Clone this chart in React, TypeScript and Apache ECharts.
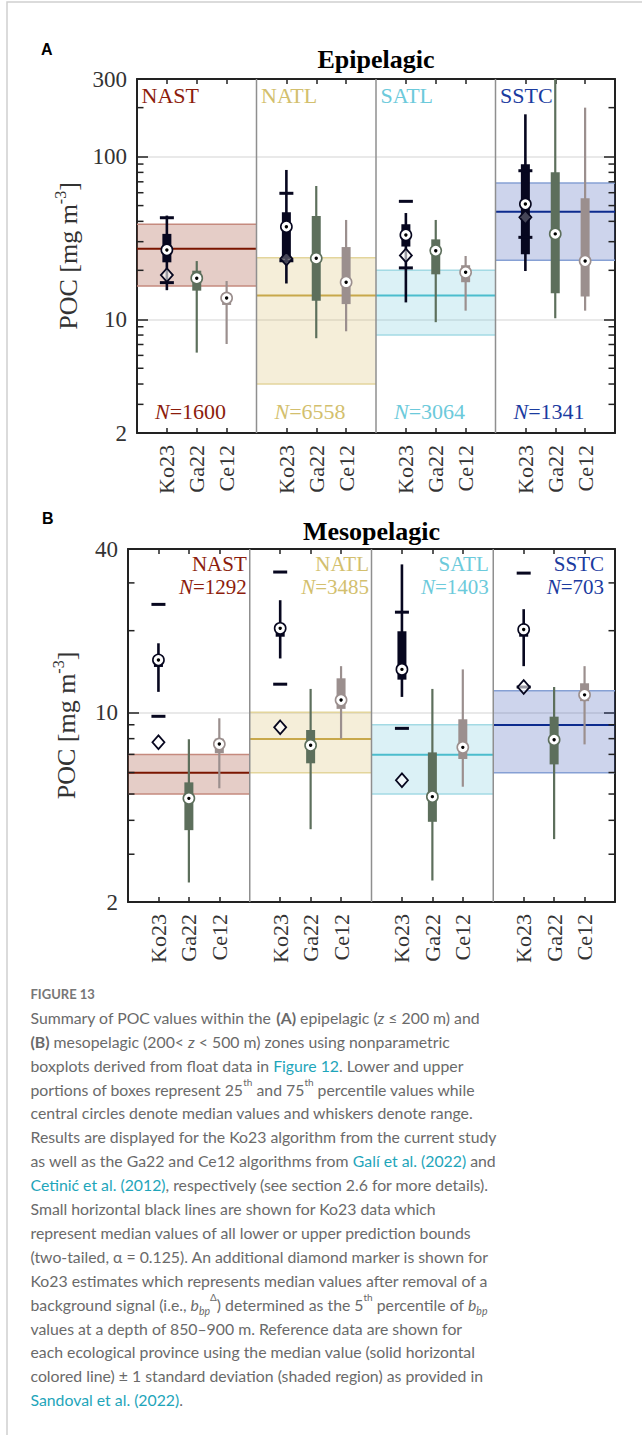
import React, { useEffect, useRef } from 'react';
import * as echarts from 'echarts';

const provinces = ['NAST', 'NATL', 'SATL', 'SSTC'];
const algorithms = ['Ko23', 'Ga22', 'Ce12'];

// ---------- Epipelagic (A) ----------
const epiN = [1600, 6558, 3064, 1341];
const epiRefMedian = [27.1, 14.0, 14.0, 45.9];
const epiRefLow = [16.0, 4.0, 8.0, 23.1];
const epiRefHigh = [38.4, 23.9, 20.0, 68.9];
// rows per province: [min, q1, median, q3, max]
const epiKo23 = [[15.1, 22.4, 26.7, 33.5, 43.4], [16.6, 23.5, 37.1, 45.5, 82.8], [12.7, 28.0, 33.0, 38.4, 45.0], [19.8, 25.1, 51.1, 89.7, 182]];
const epiGa22 = [[6.24, 15.0, 17.9, 19.9, 22.8], [7.65, 13.0, 23.7, 43.2, 66.0], [9.6, 18.9, 26.4, 31.0, 40.8], [10.15, 14.45, 33.5, 80.1, 300]];
const epiCe12 = [[7.05, 12.25, 13.5, 14.5, 17.2], [8.44, 12.4, 16.9, 27.8, 40.8], [11.3, 16.9, 19.45, 21.5, 24.5], [11.3, 13.8, 22.8, 55.4, 200]];
const epiPredLow = [16.8, 22.9, 20.7, 31.9];
const epiPredHigh = [42.1, 59.5, 53.1, 81.9];
const epiDiamond = [18.7, 23.6, 24.7, 42.4];
const epiMinorTicks = [3, 4, 5, 6, 7, 8, 9, 20, 30, 40, 50, 60, 70, 80, 90, 200];

// ---------- Mesopelagic (B) ----------
const mesoN = [1292, 3485, 1403, 703];
const mesoRefMedian = [5.99, 7.98, 6.98, 8.98];
const mesoRefLow = [5.0, 5.99, 5.0, 5.99];
const mesoRefHigh = [7.0, 10.0, 9.0, 12.0];
const mesoKo23 = [[11.9, 14.7, 15.6, 16.2, 17.97], [15.8, 19.0, 20.4, 20.6, 25.9], [11.4, 13.2, 14.4, 19.9, 35.1], [14.8, 19.0, 20.2, 20.8, 24.0]];
const mesoGa22 = [[2.36, 3.68, 4.82, 5.52, 7.96], [3.71, 6.49, 7.56, 8.61, 12.2], [2.40, 3.95, 4.89, 7.12, 12.2], [3.41, 6.43, 7.93, 9.64, 12.4]];
const mesoCe12 = [[5.25, 7.07, 7.64, 8.0, 9.51], [8.0, 10.3, 11.1, 13.35, 14.8], [5.32, 6.73, 7.43, 9.43, 14.4], [7.62, 11.0, 11.6, 12.8, 14.8]];
const mesoPredLow = [9.67, 12.7, 8.73, 12.4];
const mesoPredHigh = [25.0, 32.9, 23.4, 32.6];
const mesoDiamond = [7.76, 8.81, 5.62, 12.4];
const mesoMinorTicks = [3, 4, 5, 6, 7, 8, 9, 20, 30];

const captionTitle = 'FIGURE 13';
const captionLines = [
  'Summary of POC values within the {b|(A)} epipelagic ({i|z} ≤ 200 m) and',
  '{b|(B)} mesopelagic (200< {i|z} < 500 m) zones using nonparametric',
  'boxplots derived from float data in {l|Figure 12}. Lower and upper',
  'portions of boxes represent 25{sup|th} and 75{sup|th} percentile values while',
  'central circles denote median values and whiskers denote range.',
  'Results are displayed for the Ko23 algorithm from the current study',
  'as well as the Ga22 and Ce12 algorithms from {l|Galí et al. (2022)} and',
  '{l|Cetinić et al. (2012)}, respectively (see section 2.6 for more details).',
  'Small horizontal black lines are shown for Ko23 data which',
  'represent median values of all lower or upper prediction bounds',
  '(two-tailed, α = 0.125). An additional diamond marker is shown for',
  'Ko23 estimates which represents median values after removal of a',
  'background signal (i.e., {i|b}{sub|bp}{sup|Δ}) determined as the 5{sup|th} percentile of {i|b}{sub|bp}',
  'values at a depth of 850–900 m. Reference data are shown for',
  'each ecological province using the median value (solid horizontal',
  'colored line) ± 1 standard deviation (shaded region) as provided in',
  '{l|Sandoval et al. (2022)}.',
];

// ---------- styles ----------
const SERIF = 'Liberation Serif';
const provColors = [
  { text: '#8c1c0c', line: '#7a1500', fill: 'rgba(170,90,70,0.3)', edge: '#c58a7e' },
  { text: '#d3bf6e', line: '#c8a84b', fill: 'rgba(215,190,110,0.26)', edge: '#e3d59c' },
  { text: '#6ccadb', line: '#4bbdcd', fill: 'rgba(110,200,220,0.25)', edge: '#a3dae4' },
  { text: '#1b3b9f', line: '#0c2b8e', fill: 'rgba(60,90,180,0.26)', edge: '#86a0d4' },
];
const algColors = ['#07071f', '#5d6f5c', '#9b8f8e'];

const xSlots: string[] = [''];
provinces.forEach(() => {
  algorithms.forEach((a) => xSlots.push(a));
  xSlots.push('');
});

function catAxis(gridIndex: number, position: string, showLabel: boolean) {
  return {
    type: 'category',
    gridIndex,
    position,
    data: xSlots,
    boundaryGap: false,
    axisLine: { show: true, onZero: false, lineStyle: { color: '#222', width: 2 } },
    axisTick: {
      show: true,
      inside: true,
      length: 5,
      interval: (i: number) => i % 4 !== 0,
      lineStyle: { color: '#222', width: 1.5 },
    },
    axisLabel: {
      show: showLabel,
      interval: 0,
      rotate: 90,
      margin: 12,
      fontFamily: SERIF,
      fontSize: 22,
      color: '#333',
    },
    splitLine: { show: false },
  };
}

function logAxis(gridIndex: number, position: string, max: number, showLabel: boolean, nameGap: number) {
  return {
    type: 'log',
    logBase: 10,
    gridIndex,
    position,
    min: 2,
    max,
    axisLine: { show: true, lineStyle: { color: '#222', width: 2 } },
    axisTick: { show: true, inside: true, length: 11, lineStyle: { color: '#222', width: 1.5 } },
    axisLabel: {
      show: showLabel,
      margin: 10,
      fontFamily: SERIF,
      fontSize: 23,
      color: '#333',
      formatter: (v: number) => String(Math.round(v)),
    },
    splitLine: { show: showLabel, lineStyle: { color: '#e2e2e2', width: 1.5 } },
    minorTick: { show: false },
    name: showLabel ? '{a|POC [mg m}{s|-3}{a|]}' : '',
    nameLocation: 'middle',
    nameRotate: 90,
    nameGap,
    nameTextStyle: {
      rich: {
        a: { fontFamily: SERIF, fontSize: 26, color: '#333', lineHeight: 32 },
        s: { fontFamily: SERIF, fontSize: 16, color: '#333', lineHeight: 32, verticalAlign: 'top' },
      },
    },
  };
}

function provinceRender(kind: 'epi' | 'meso') {
  const labelOff = [3, 2.5, 4.5, 11];
  return (params: any, api: any) => {
    const p = api.value(0);
    const c = provColors[p];
    const cs = params.coordSys;
    const med = api.coord([4 * p, api.value(1)]);
    const x0 = med[0];
    const x1 = api.coord([4 * p + 4, api.value(1)])[0];
    const yLow = api.coord([4 * p, api.value(2)])[1];
    const yHigh = api.coord([4 * p, api.value(3)])[1];
    const nVal = api.value(4);
    const children: any[] = [
      { type: 'rect', shape: { x: x0, y: yHigh, width: x1 - x0, height: yLow - yHigh }, style: { fill: c.fill } },
      { type: 'line', shape: { x1: x0, y1: yHigh, x2: x1, y2: yHigh }, style: { stroke: c.edge, lineWidth: 1.5 } },
      { type: 'line', shape: { x1: x0, y1: yLow, x2: x1, y2: yLow }, style: { stroke: c.edge, lineWidth: 1.5 } },
      { type: 'line', shape: { x1: x0, y1: med[1], x2: x1, y2: med[1] }, style: { stroke: c.line, lineWidth: 2 } },
    ];
    if (p > 0) {
      children.push({
        type: 'line',
        shape: { x1: x0, y1: cs.y, x2: x0, y2: cs.y + cs.height },
        style: { stroke: '#8f8f8f', lineWidth: 1.5 },
      });
    }
    if (kind === 'epi') {
      const rich = {
        i: { fontFamily: SERIF, fontSize: 22, fontStyle: 'italic', fill: c.text },
        r: { fontFamily: SERIF, fontSize: 22, fill: c.text },
      };
      children.push({
        type: 'text',
        style: { text: provinces[p], x: x0 + 4.5, y: cs.y + 16, align: 'left', verticalAlign: 'middle', fontFamily: SERIF, fontSize: 22, fill: c.text },
      });
      children.push({
        type: 'text',
        style: { text: '{i|N}{r|=' + nVal + '}', rich, x: x0 + 18, y: cs.y + cs.height - 22, align: 'left', verticalAlign: 'middle', fontFamily: SERIF, fontSize: 22, fill: c.text },
      });
    } else {
      const rich = {
        i: { fontFamily: SERIF, fontSize: 21, fontStyle: 'italic', fill: c.text },
        r: { fontFamily: SERIF, fontSize: 21, fill: c.text },
      };
      children.push({
        type: 'text',
        style: { text: provinces[p], x: x1 - labelOff[p], y: cs.y + 14.5, align: 'right', verticalAlign: 'middle', fontFamily: SERIF, fontSize: 21, fill: c.text },
      });
      children.push({
        type: 'text',
        style: { text: '{i|N}{r|=' + nVal + '}', rich, x: x1 - labelOff[p], y: cs.y + 38, align: 'right', verticalAlign: 'middle', fontFamily: SERIF, fontSize: 21, fill: c.text },
      });
    }
    return { type: 'group', children };
  };
}

function boxRender(params: any, api: any) {
  const x = api.value(0);
  const a = api.value(6);
  const col = algColors[a];
  const pMin = api.coord([x, api.value(1)]);
  const pQ1 = api.coord([x, api.value(2)]);
  const pMed = api.coord([x, api.value(3)]);
  const pQ3 = api.coord([x, api.value(4)]);
  const pMax = api.coord([x, api.value(5)]);
  const bw = 9;
  return {
    type: 'group',
    children: [
      { type: 'line', shape: { x1: pMin[0], y1: pMin[1], x2: pMax[0], y2: pMax[1] }, style: { stroke: col, lineWidth: a === 0 ? 2.6 : 2.2 } },
      { type: 'rect', shape: { x: pQ3[0] - bw / 2, y: pQ3[1], width: bw, height: pQ1[1] - pQ3[1] }, style: { fill: col } },
      { type: 'circle', shape: { cx: pMed[0], cy: pMed[1], r: 5.6 }, style: { fill: '#fff', stroke: col, lineWidth: 1.6 } },
      { type: 'circle', shape: { cx: pMed[0], cy: pMed[1], r: 1.7 }, style: { fill: '#000' } },
    ],
  };
}

function extraRender(params: any, api: any) {
  const x = api.value(0);
  const lo = api.coord([x, api.value(1)]);
  const hi = api.coord([x, api.value(2)]);
  const dv = api.value(3);
  const d = api.coord([x, dv]);
  const inside = dv >= api.value(4) && dv <= api.value(5);
  const col = algColors[0];
  return {
    type: 'group',
    children: [
      { type: 'rect', shape: { x: lo[0] - 7, y: lo[1] - 1.5, width: 14, height: 3 }, style: { fill: col } },
      { type: 'rect', shape: { x: hi[0] - 7, y: hi[1] - 1.5, width: 14, height: 3 }, style: { fill: col } },
      {
        type: 'polygon',
        shape: { points: [[d[0], d[1] - 6.8], [d[0] + 6, d[1]], [d[0], d[1] + 6.8], [d[0] - 6, d[1]]] },
        style: { fill: inside ? 'rgba(255,255,255,0.25)' : 'rgba(255,255,255,0.6)', stroke: col, lineWidth: 1.8 },
      },
    ],
  };
}

function minorTickRender(params: any, api: any) {
  const cs = params.coordSys;
  const y = api.coord([0, api.value(1)])[1];
  return {
    type: 'group',
    children: [
      { type: 'line', shape: { x1: cs.x, y1: y, x2: cs.x + 6.5, y2: y }, style: { stroke: '#222', lineWidth: 1.5 } },
      { type: 'line', shape: { x1: cs.x + cs.width - 6.5, y1: y, x2: cs.x + cs.width, y2: y }, style: { stroke: '#222', lineWidth: 1.5 } },
    ],
  };
}

function panelSeries(
  gi: number,
  kind: 'epi' | 'meso',
  n: number[],
  refMedian: number[],
  refLow: number[],
  refHigh: number[],
  boxes: number[][][],
  predLow: number[],
  predHigh: number[],
  diamond: number[],
  minorTicks: number[]
) {
  const xAxisIndex = gi * 2;
  const yAxisIndex = gi * 2;
  const provData = provinces.map((_, p) => [p, refMedian[p], refLow[p], refHigh[p], n[p]]);
  const boxData: number[][] = [];
  provinces.forEach((_, p) => {
    boxes.forEach((arr, a) => {
      const r = arr[p];
      boxData.push([4 * p + 1 + a, r[0], r[1], r[2], r[3], r[4], a]);
    });
  });
  const extraData = provinces.map((_, p) => [4 * p + 1, predLow[p], predHigh[p], diamond[p], boxes[0][p][1], boxes[0][p][3]]);
  const tickData = minorTicks.map((v) => [0, v]);
  return [
    { type: 'custom', xAxisIndex, yAxisIndex, z: 1, clip: false, silent: true, renderItem: provinceRender(kind), data: provData },
    { type: 'custom', xAxisIndex, yAxisIndex, z: 3, clip: false, silent: true, renderItem: boxRender, data: boxData },
    { type: 'custom', xAxisIndex, yAxisIndex, z: 4, clip: false, silent: true, renderItem: extraRender, data: extraData },
    { type: 'custom', xAxisIndex, yAxisIndex, z: 5, clip: false, silent: true, renderItem: minorTickRender, data: tickData },
  ];
}

function buildOption() {
  const capBase = { fontFamily: 'Lato', fontSize: 15.8, lineHeight: 24, fill: '#6a6a6a' };
  const capRich = {
    b: { ...capBase, fontWeight: 'bold' },
    i: { ...capBase, fontStyle: 'italic' },
    l: { ...capBase, fill: '#1ea5ba' },
    sup: { ...capBase, fontSize: 10, verticalAlign: 'top' },
    sub: { ...capBase, fontSize: 10.5, fontStyle: 'italic', verticalAlign: 'bottom' },
  };
  const graphic: any[] = [
    { type: 'rect', silent: true, shape: { x: 7, y: 2, width: 700, height: 1500 }, style: { fill: 'none', stroke: '#d0d0d0', lineWidth: 1.5 } },
    { type: 'text', x: 41, y: 49.5, style: { text: 'A', align: 'left', verticalAlign: 'middle', fontFamily: 'Liberation Sans', fontWeight: 'bold', fontSize: 16, fill: '#000' } },
    { type: 'text', x: 42, y: 518.5, style: { text: 'B', align: 'left', verticalAlign: 'middle', fontFamily: 'Liberation Sans', fontWeight: 'bold', fontSize: 16, fill: '#000' } },
    { type: 'text', x: 376, y: 59, style: { text: 'Epipelagic', align: 'center', verticalAlign: 'middle', fontFamily: SERIF, fontWeight: 'bold', fontSize: 26, fill: '#000' } },
    { type: 'text', x: 371.5, y: 531, style: { text: 'Mesopelagic', align: 'center', verticalAlign: 'middle', fontFamily: SERIF, fontWeight: 'bold', fontSize: 26, fill: '#000' } },
    { type: 'text', x: 30.5, y: 994, style: { text: captionTitle, align: 'left', verticalAlign: 'middle', fontFamily: 'Lato', fontWeight: 'bold', fontSize: 13, fill: '#777' } },
  ];
  captionLines.forEach((line, i) => {
    graphic.push({
      type: 'text',
      x: 30.5,
      y: 1017.3 + i * 23.9,
      style: { text: line, rich: capRich, align: 'left', verticalAlign: 'middle', ...capBase },
    });
  });

  return {
    animation: false,
    backgroundColor: '#ffffff',
    grid: [
      { left: 137, top: 79, width: 478, height: 354, containLabel: false, outerBoundsMode: 'none' },
      { left: 128, top: 549, width: 487, height: 353, containLabel: false, outerBoundsMode: 'none' },
    ],
    xAxis: [catAxis(0, 'bottom', true), catAxis(0, 'top', false), catAxis(1, 'bottom', true), catAxis(1, 'top', false)],
    yAxis: [
      logAxis(0, 'left', 300, true, 50),
      logAxis(0, 'right', 300, false, 0),
      logAxis(1, 'left', 40, true, 46),
      logAxis(1, 'right', 40, false, 0),
    ],
    series: [
      ...panelSeries(0, 'epi', epiN, epiRefMedian, epiRefLow, epiRefHigh, [epiKo23, epiGa22, epiCe12], epiPredLow, epiPredHigh, epiDiamond, epiMinorTicks),
      ...panelSeries(1, 'meso', mesoN, mesoRefMedian, mesoRefLow, mesoRefHigh, [mesoKo23, mesoGa22, mesoCe12], mesoPredLow, mesoPredHigh, mesoDiamond, mesoMinorTicks),
    ],
    graphic,
  };
}

export default function App() {
  const ref = useRef<HTMLDivElement>(null);
  useEffect(() => {
    if (!ref.current) return;
    const chart = echarts.init(ref.current, null, { renderer: 'svg' });
    chart.setOption(buildOption() as any);
    return () => chart.dispose();
  }, []);
  return <div ref={ref} style={{ position: 'absolute', left: 0, top: 0, width: 642, height: 1435, background: '#fff' }} />;
}
